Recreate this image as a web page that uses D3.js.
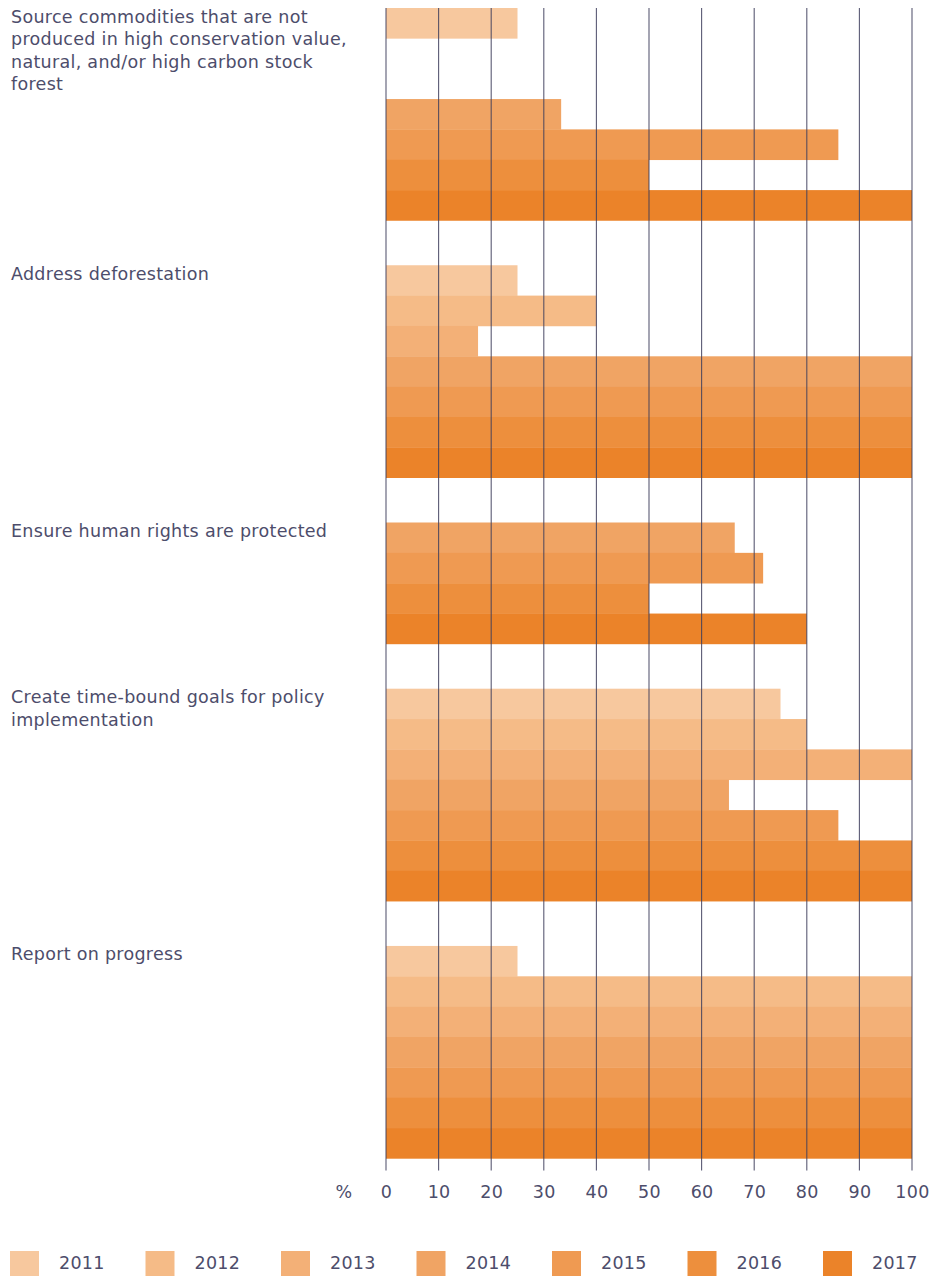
<!DOCTYPE html>
<html>
<head>
<meta charset="utf-8">
<script src="https://cdn.jsdelivr.net/npm/d3@7"></script>
<style>
  body { margin: 0; background: #fff; }
  svg text { font-family: "DejaVu Sans", sans-serif; fill: #4d4d6b; letter-spacing: 0.3px; }
</style>
</head>
<body>
<div id="chart"></div>
<script>
var svgWidth = 940;
var svgHeight = 1276;

// categories (label lines), years and values per year (null = year not shown for that category)
var categories = [
  ["Source commodities that are not", "produced in high conservation value,", "natural, and/or high carbon stock", "forest"],
  ["Address deforestation"],
  ["Ensure human rights are protected"],
  ["Create time-bound goals for policy", "implementation"],
  ["Report on progress"]
];
var years = ["2011", "2012", "2013", "2014", "2015", "2016", "2017"];
var v2011 = [25, 25, null, 75, 25];
var v2012 = [0, 40, null, 80, 100];
var v2013 = [0, 17.5, null, 100, 100];
var v2014 = [33.3, 100, 66.3, 65.2, 100];
var v2015 = [86, 100, 71.7, 86, 100];
var v2016 = [50, 100, 50, 100, 100];
var v2017 = [100, 100, 80, 100, 100];
var seriesValues = [v2011, v2012, v2013, v2014, v2015, v2016, v2017];
var colors = ["#f7c89e", "#f5bb87", "#f3b077", "#f0a464", "#ef9a52", "#ed8f3d", "#eb8329"];
var ticks = [0, 10, 20, 30, 40, 50, 60, 70, 80, 90, 100];

var margin = { top: 8, left: 386, right: 28 };
var slotH = 30.35;
var groupGap = 44.8;
var plotW = svgWidth - margin.left - margin.right;
var fontSize = 17.5;

var svg = d3.select("#chart")
  .append("svg")
  .attr("width", svgWidth)
  .attr("height", svgHeight);

var x = d3.scaleLinear().domain([0, 100]).range([margin.left, margin.left + plotW]);

// one band scale per category, stacked down the page
var groups = [];
var y0 = margin.top;
categories.forEach(function(lines, i) {
  var shown = years.filter(function(yr, j) { return seriesValues[j][i] !== null; });
  var band = d3.scaleBand().domain(shown).range([y0, y0 + shown.length * slotH]);
  groups.push({ lines: lines, band: band, top: y0, index: i });
  y0 += shown.length * slotH + groupGap;
});
var plotBottom = y0 - groupGap;

// bars
groups.forEach(function(g) {
  var rows = years.map(function(yr, j) {
    return { year: yr, value: seriesValues[j][g.index], color: colors[j] };
  }).filter(function(d) { return d.value !== null; });

  svg.append("g")
    .selectAll("rect")
    .data(rows)
    .enter()
    .append("rect")
    .attr("x", x(0))
    .attr("y", d => g.band(d.year))
    .attr("width", d => x(d.value) - x(0))
    .attr("height", g.band.bandwidth() + 0.3)
    .attr("fill", d => d.color);

  var label = svg.append("text")
    .attr("x", 11)
    .attr("y", g.top + 14.5)
    .attr("font-size", fontSize);
  label.selectAll("tspan")
    .data(g.lines)
    .enter()
    .append("tspan")
    .attr("x", 11)
    .attr("dy", (d, k) => k === 0 ? 0 : 22.5)
    .text(d => d);
});

// vertical grid over the bars
svg.append("g")
  .selectAll("line")
  .data(ticks)
  .enter()
  .append("line")
  .attr("x1", d => x(d))
  .attr("x2", d => x(d))
  .attr("y1", margin.top)
  .attr("y2", plotBottom + 12)
  .attr("stroke", "#3d3d5c")
  .attr("stroke-opacity", 0.85)
  .attr("stroke-width", 1.1);

// axis labels
var axis = d3.axisBottom(x).tickValues(ticks).tickSize(0).tickPadding(0);
var axisG = svg.append("g")
  .attr("transform", `translate(0, ${plotBottom + 35})`)
  .call(axis);
axisG.select(".domain").remove();
axisG.selectAll("text")
  .attr("font-size", fontSize)
  .attr("font-family", "DejaVu Sans, sans-serif")
  .attr("fill", "#4d4d6b")
  .attr("dy", "0")
  .attr("dominant-baseline", "middle");

svg.append("text")
  .attr("x", 344)
  .attr("y", plotBottom + 35)
  .attr("text-anchor", "middle")
  .attr("dominant-baseline", "middle")
  .attr("font-size", fontSize)
  .text("%");

// legend
var legendX = d3.scalePoint().domain(years).range([10, 823]);
var legend = svg.append("g")
  .selectAll("g")
  .data(years)
  .enter()
  .append("g")
  .attr("transform", d => `translate(${legendX(d)}, 1251)`);
legend.append("rect")
  .attr("width", 29)
  .attr("height", 26)
  .attr("fill", (d, i) => colors[i]);
legend.append("text")
  .attr("x", 49)
  .attr("y", 13)
  .attr("dominant-baseline", "middle")
  .attr("font-size", fontSize)
  .text(d => d);
</script>
</body>
</html>
